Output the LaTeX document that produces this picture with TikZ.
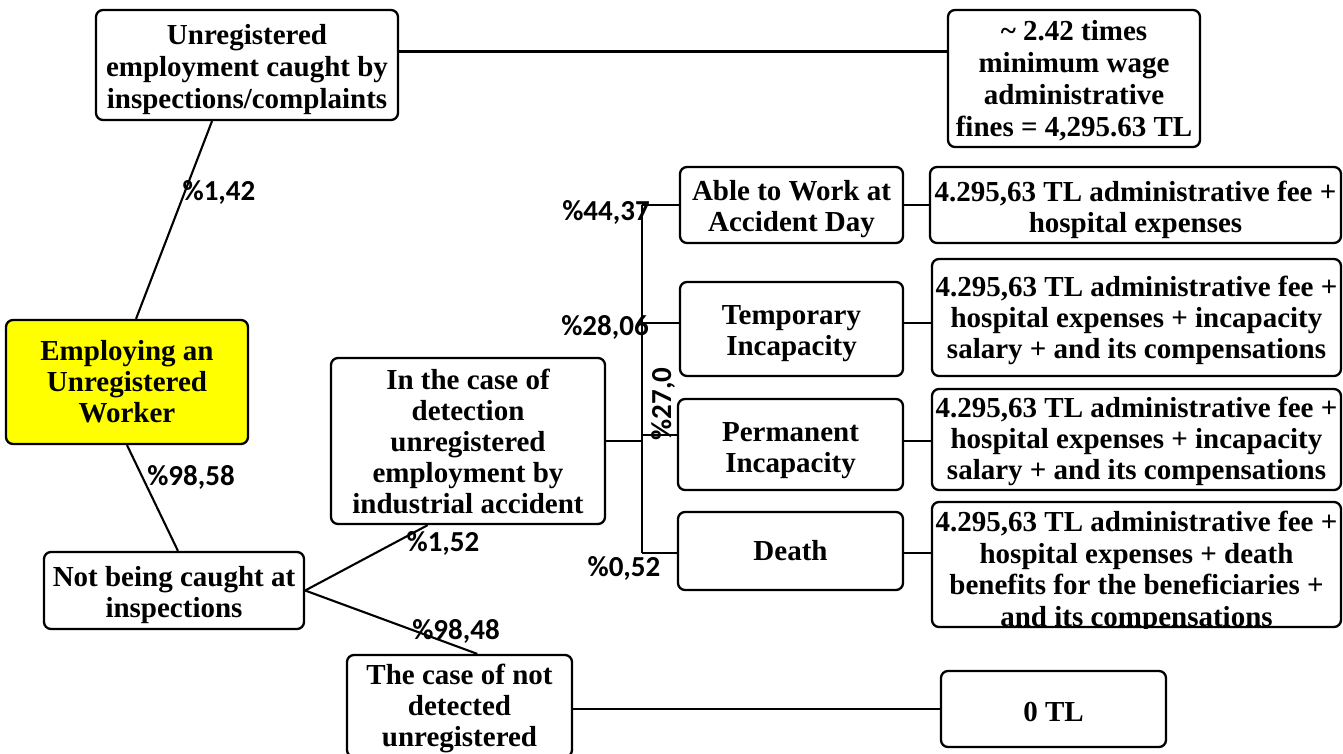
\documentclass[tikz,border=0pt]{standalone}
\usepackage{fontspec}
\setmainfont{Liberation Serif}
\newfontfamily\labfont{Carlito}
\usetikzlibrary{calc}
\definecolor{hl}{RGB}{255,255,0}
\newcommand\upst[1]{\rule{0pt}{#1pt}}
\tikzset{
  box/.style={draw, line width=2.3pt, rounded corners=7pt, align=center, inner sep=0pt,
    font=\fontsize{29}{31}\selectfont\bfseries},
  wh/.style 2 args={minimum width=#1pt, minimum height=#2pt},
  wide/.style={font=\fontsize{29}{32}\selectfont\bfseries},
  conn/.style={line width=2.1pt},
  pct/.style={inner sep=0pt, font=\labfont\fontsize{29}{29}\selectfont\bfseries},
}
\begin{document}
\begin{tikzpicture}[x=1pt, y=-1pt]
\useasboundingbox (0,0) rectangle (1343,754);
% nodes
\node[box, wide, wh={302}{110}] (b1) at (247,65) {\upst{30}Unregistered\\employment caught by\\inspections/complaints};
\node[box, wide, wh={252}{137}] (b2) at (1074,78.5) {\upst{25}\textasciitilde{} 2.42 times\\minimum wage\\administrative\\fines = 4,295.63 TL};
\node[box, wh={242}{124}, fill=hl] (emp) at (127,382) {Employing an\\Unregistered\\Worker};
\node[box, wh={260}{77}] (nc) at (174,590.5) {\upst{28.6}Not being caught at\\inspections};
\node[box, wh={274}{166}] (ic) at (468,441) {In the case of\\detection\\unregistered\\employment by\\industrial accident};
\node[box, wh={225}{102}] (nd) at (459.5,706) {\upst{24.6}The case of not\\detected\\unregistered};
\node[box, wh={225}{76}] (z) at (1053.5,709) {\upst{25.6}0 TL};
\node[box, wh={223}{76}] (a) at (791.5,205) {\upst{28}Able to Work at\\Accident Day};
\node[box, wh={223}{94}] (t) at (791.5,329) {\upst{28.5}Temporary\\Incapacity};
\node[box, wh={225}{91}] (p) at (790.5,444.5) {\upst{30.6}Permanent\\Incapacity};
\node[box, wh={225}{78}] (d) at (790.5,551) {Death};
\node[box, wh={411}{76}] (r1) at (1135.5,205) {\upst{29.5}4.295,63 TL administrative fee +\\hospital expenses};
\node[box, wh={409}{117}] (r2) at (1136.5,317.5) {\upst{26.6}4.295,63 TL administrative fee +\\hospital expenses + incapacity\\salary + and its compensations};
\node[box, wh={409}{101}] (r3) at (1136.5,439.5) {\upst{23.6}4.295,63 TL administrative fee +\\hospital expenses + incapacity\\salary + and its compensations};
\node[box, wh={409}{125}] (r4) at (1136.5,564.5) {};
\begin{scope}
\clip (r4.south west) rectangle (r4.north east);
\node[align=center, inner sep=0pt, font=\fontsize{29}{31.5}\selectfont\bfseries] (r4t) at (1136.5,572) {4.295,63 TL administrative fee +\\hospital expenses + death\\benefits for the beneficiaries +\\and its compensations};
\end{scope}
% connectors
\coordinate (c1) at ($(b1.north east)!0.38!(b1.south east)$);
\draw[conn] (c1) -- (c1 -| b2.west);
\draw[conn] ($(b1.south west)!0.385!(b1.south east)$) -- ($(emp.north west)!0.537!(emp.north east)$);
\draw[conn] (emp.south) -- ($(nc.north west)!0.515!(nc.north east)$);
\draw[conn] (nc.east) -- ($(ic.south west)!0.354!(ic.south east)$);
\draw[conn] (nc.east) -- ($(nd.north west)!0.578!(nd.north east)$);
\draw[conn] (nd.east |- z.west) -- (z.west);
\coordinate (bt) at (642,205);
\coordinate (bb) at (642,553);
\draw[conn] (bt) -- (bb);
\draw[conn] (ic.east) -- (ic.east -| bt);
\draw[conn] (a.west -| bt) -- (a.west);
\draw[conn] (bt |- 0,323) -- (t.west |- 0,323);
\draw[conn] (bt |- 0,435) -- (p.west |- 0,435);
\draw[conn] (bb) -- (d.west |- bb);
\draw[conn] (a.east) -- (a.east -| r1.west);
\draw[conn] (t.east |- 0,323) -- (r2.west |- 0,323);
\draw[conn] (p.east |- 0,441) -- (r3.west |- 0,441);
\draw[conn] (d.east |- bb) -- (r4.west |- bb);
% labels
\node[pct] (l1) at (219,192) {\%1,42};
\node[pct] (l2) at (191,477) {\%98,58};
\node[pct] (l3) at (443,543) {\%1,52};
\node[pct] (l4) at (456,631) {\%98,48};
\node[pct] (l5) at (606,212) {\%44,37};
\node[pct] (l6) at (605,327) {\%28,06};
\node[pct, rotate=90] (l7) at (663,404) {\%27,0};
\node[pct] (l8) at (624,568) {\%0,52};
\end{tikzpicture}
\end{document}
